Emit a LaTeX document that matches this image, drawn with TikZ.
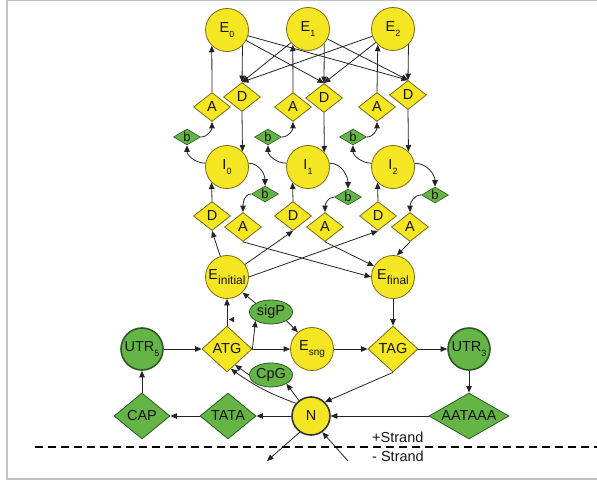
\documentclass[tikz,border=0pt]{standalone}
\usepackage{fontspec}
\setmainfont{Liberation Sans}
\usetikzlibrary{shapes.geometric,arrows.meta,calc}

\definecolor{yel}{RGB}{245,230,35}
\definecolor{ybord}{RGB}{120,105,20}
\definecolor{grn}{RGB}{100,180,70}
\definecolor{gbord}{RGB}{45,90,35}
\definecolor{wire}{RGB}{35,35,35}
\definecolor{framegray}{RGB}{195,195,195}

% lowered subscript in a given point size
\newcommand{\lowsub}[2]{\raisebox{-0.55ex}{\fontsize{#1}{#1}\selectfont #2}}

\begin{document}
\begin{tikzpicture}[x=1pt,y=-1pt,
  every node/.style={font=\fontsize{14.5}{14.5}\selectfont, text=black!92, inner sep=0pt},
  ystate/.style={circle, fill=yel, draw=ybord, line width=0.8pt, minimum size=43pt},
  ythick/.style={circle, fill=yel, draw=black!80, line width=1.6pt, minimum size=38pt},
  gstate/.style={circle, fill=grn, draw=gbord, line width=1.6pt, minimum size=42pt},
  ysite/.style={diamond, fill=yel, draw=ybord, line width=0.8pt, minimum width=37pt, minimum height=29pt},
  ysignal/.style={diamond, fill=yel, draw=ybord, line width=0.8pt, minimum width=50pt, minimum height=46pt},
  gsignal/.style={diamond, fill=grn, draw=gbord, line width=0.8pt, aspect=1.2, minimum width=56pt, minimum height=46pt},
  bsite/.style={diamond, fill=grn, draw=gbord, line width=0.6pt, aspect=1.7, minimum width=27pt, minimum height=16pt, font=\fontsize{13}{13}\selectfont},
  gblob/.style={ellipse, fill=grn, draw=gbord, line width=0.8pt, minimum width=43pt, minimum height=24pt},
  link/.style={draw=wire, line width=0.8pt, -{Triangle[length=6.5pt,width=5.5pt]}},
]
\useasboundingbox (0,0) rectangle (597,484);

% light frame
\draw[framegray, line width=1.2pt] (597,0.6) -- (7,0.6) -- (7,479) -- (597,479);

% ---- exon / intron states in three phases ----
\node[ystate] (E0) at (227,30) {E\lowsub{9}{0}};
\node[ystate] (E1) at (308,29) {E\lowsub{9}{1}};
\node[ystate] (E2) at (393,29) {E\lowsub{9}{2}};

\node[ysite] (A0) at (212,107) {A};
\node[ysite] (D0) at (242,97) {D};
\node[ysite] (A1) at (293,107) {A};
\node[ysite] (D1) at (324,98) {D};
\node[ysite] (A2) at (377,107) {A};
\node[ysite] (D2) at (408,95) {D};

\node[bsite] (bL0) at (187,137) {b};
\node[bsite] (bL1) at (268,137) {b};
\node[bsite] (bL2) at (353,137) {b};

\node[ystate] (I0) at (227,167) {I\lowsub{9}{0}};
\node[ystate] (I1) at (308,167) {I\lowsub{9}{1}};
\node[ystate] (I2) at (393,167) {I\lowsub{9}{2}};

\node[bsite] (bR0) at (265,194) {b};
\node[bsite] (bR1) at (348,197) {b};
\node[bsite] (bR2) at (435,195) {b};

\node[ysite] (Dl0) at (212,216) {D};
\node[ysite] (Al0) at (243,227) {A};
\node[ysite] (Dl1) at (293,216) {D};
\node[ysite] (Al1) at (325,227) {A};
\node[ysite] (Dl2) at (378,216) {D};
\node[ysite] (Al2) at (410,227) {A};

\node[ystate] (Ei) at (227,277) {E\lowsub{12}{initial}};
\node[ystate] (Ef) at (393,277) {E\lowsub{12}{final}};

% ---- gene-level states ----
\node[gblob] (sigP) at (271,312) {sigP};
\node[ysignal] (ATG) at (227,349) {ATG};
\node[ystate] (Esng) at (312,349) {E\lowsub{10}{sng}};
\node[ysignal] (TAG) at (393,349) {TAG};
\node[gstate] (UTR5) at (142,349) {UTR\lowsub{9}{5}};
\node[gstate] (UTR3) at (469,349) {UTR\lowsub{9}{3}};
\node[gblob] (CpG) at (271,375) {CpG};
\node[ythick] (N) at (311,416) {N};
\node[gsignal] (CAP) at (142,416) {CAP};
\node[gsignal] (TATA) at (228,416) {TATA};
\node[gsignal, aspect=1.7, minimum width=80pt] (AATAAA) at (469,416) {AATAAA};

\coordinate (outN) at (267,461);
\coordinate (inN) at (348,461);
\coordinate (atgA) at ($(ATG.south)!0.15!(ATG.east)$);
\coordinate (atgB) at ($(ATG.south)!0.32!(ATG.east)$);

% ---- exon -> donor links ----
\draw[link] (E0.-45) -- (D0.north);
\draw[link] (E0) -- (D1.north);
\draw[link] (E0) -- (D2.north);
\draw[link] (E1) -- (D0.north);
\draw[link] (E1.-42) -- (D1.north);
\draw[link] (E1) -- (D2.north);
\draw[link] (E2) -- (D0.north);
\draw[link] (E2) -- (D1.north);
\draw[link] (E2.-45) -- (D2.north);

% acceptor -> exon
\draw[link] (A0.north) -- (E0.-134);
\draw[link] (A1.north) -- (E1.-134);
\draw[link] (A2.north) -- (E2.-134);

% donor -> intron
\draw[link] (D0.south) -- (I0.45);
\draw[link] (D1.south) -- (I1.42);
\draw[link] (D2.south) -- (I2.45);

% intron branch loops
\foreach \i in {0,1,2}{
  \draw[link] (I\i.170) to[out=180,in=-90] (bL\i.south);
  \draw[link] (bL\i.east) to[out=0,in=-90] (A\i.south);
  \draw[link] (I\i.10) to[out=0,in=90] (bR\i.north);
  \draw[link] (bR\i.west) to[out=180,in=90] (Al\i.north);
  \draw[link] (Dl\i.north) -- (I\i.-135);
}

% initial exon -> donors, acceptors -> final exon
\draw[link] (Ei) -- (Dl0.south);
\draw[link] (Ei) -- (Dl1.south);
\draw[link] (Ei.east) -- (Dl2.south);
\draw[link] (Al0.south) -- (Ef.west);
\draw[link] (Al1.south) -- (Ef.150);
\draw[link] (Al2.south) -- (Ef.80);

% ---- gene-level links ----
\draw[link] (ATG.north) -- (Ei.south);
\draw[link] (sigP.north west) -- (Ei.-45);
\draw[link] (ATG.east) -- (sigP.south west);
\draw[link] (sigP.south east) -- (Esng.130);
\draw[link] (ATG.east) -- (Esng.west);
\draw[link] (Esng.east) -- (TAG.west);
\draw[link] (Ef.south) -- (TAG.north);
\draw[link] (TAG.east) -- (UTR3.west);
\draw[link] (UTR5.east) -- (ATG.west);
\draw[link] (UTR3.south) -- (AATAAA.north);
\draw[link] (AATAAA.west) -- (N.east);
\draw[link] (TAG.south) -- (N.45);
\draw[link] (N.west) -- (TATA.east);
\draw[link] (TATA.west) -- (CAP.east);
\draw[link] (CAP.north) -- (UTR5.south);
\draw[link] (N.128) -- (CpG.south east);
\draw[link] (CpG.west) -- (atgB);
\draw[link] (N.140) to[out=160,in=-35] (atgA);
\draw[link] (N.-125) -- (outN);
\draw[link] (inN) -- (N.-55);

% small loose tip beside the start codon
\fill[wire] (229,319.5) -- (234,316.8) -- (234,322.2) -- cycle;

% strand separator
\draw[black, line width=1.6pt, dash pattern=on 8pt off 5pt] (35,447) -- (597,447);
\node[anchor=west] (plus) at (372,437) {+Strand};
\node[anchor=west] (minus) at (372,456) {- Strand};
\end{tikzpicture}
\end{document}
